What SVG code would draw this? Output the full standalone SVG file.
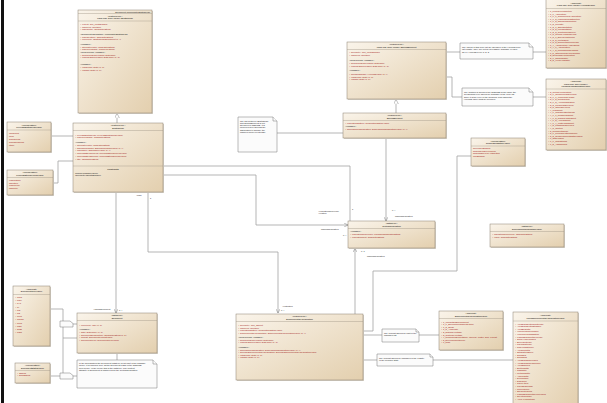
<svg xmlns="http://www.w3.org/2000/svg" width="607" height="403" viewBox="0 0 607 403">
<defs>
<linearGradient id="bg" x1="0" y1="0" x2="1" y2="1">
<stop offset="0" stop-color="#faf4ea"/>
<stop offset="1" stop-color="#e3cfae"/>
</linearGradient>
<marker id="gen" viewBox="0 0 10 10" refX="10" refY="5" markerWidth="5" markerHeight="5" markerUnits="userSpaceOnUse" orient="auto">
<path d="M0,0 L10,5 L0,10 z" fill="#fff" stroke="#888" stroke-width="1"/>
</marker>
<marker id="arr" viewBox="0 0 10 10" refX="10" refY="5" markerWidth="4" markerHeight="4" markerUnits="userSpaceOnUse" orient="auto">
<path d="M0,0 L10,5 L0,10" fill="none" stroke="#777" stroke-width="1.2"/>
</marker>
</defs>
<style>
text{font-family:"Liberation Sans",Arial,sans-serif;font-size:2.35px}
.b{fill:url(#bg);stroke:#8a7f70;stroke-width:0.5}
.sh{fill:#d6d0c6}
.s{stroke:#9c9284;stroke-width:0.4}
.n{fill:#fbfbfb;stroke:#777;stroke-width:0.5}
.c{fill:none;stroke:#a2a2a2;stroke-width:0.8}
.h{fill:#000;text-anchor:middle}
.a{fill:#a31818}
.k{fill:#111}
.t{fill:#222;font-size:2.2px}
.lb{fill:#222;font-size:2.2px}
</style>
<rect x="1" y="0" width="3" height="403" fill="#111"/>

<g id="connectors">
<path class="c" d="M117,123 V113.3" marker-end="url(#gen)"/>
<path class="c" d="M396,113 V99.3" marker-end="url(#gen)"/>
<path class="c" d="M51,136 H73"/>
<path class="c" d="M53,183 H58 V161 H73"/>
<path class="c" d="M116,192 V313" marker-end="url(#arr)"/>
<path class="c" d="M148,192 V252 H278 V313" marker-end="url(#arr)"/>
<path class="c" d="M163,166 H350 V221"/>
<path class="c" d="M163,175 H256 V225 H348" marker-end="url(#arr)"/>
<path class="c" d="M386,138 V221" marker-end="url(#arr)"/>
<path class="c" d="M355,314 V248.3" marker-end="url(#arr)"/>
<path class="c" d="M277,133 H343"/>
<path class="c" d="M446,52 H460 M533,52 H546"/>
<path class="c" d="M446,77 H452 V97 H462 M533,97 H546"/>
<path class="c" d="M363,331 H373 V271 H457 V156 H471"/>
<path class="c" d="M363,335 H382 M419,335 H439"/>
<path class="c" d="M363,360 H377 M433,360 H513"/>
<path class="c" d="M117,353 V360"/>
<path class="c" d="M50,309 H63 V321 M73,324 H77 M63,327 V373 M63,338 H77 M50,376 H60 M73,376 H77"/>
<text class="lb" x="93" y="309.5">+officialDocument</text>
<text class="lb" x="119" y="311">0..*</text>
<text class="lb" x="136" y="196">+plan</text>
<text class="lb" x="150" y="199">1</text>
<text class="lb" x="282" y="307">+restriction</text>
<text class="lb" x="281" y="311">0..*</text>
<text class="lb" x="318" y="211.5">+regulationReference</text>
<text class="lb" x="318" y="214">+relation</text>
<text class="lb" x="352" y="210">1</text>
<text class="lb" x="321" y="230">manualRegulation</text>
<text class="lb" x="343" y="235.5">0..*</text>
<text class="lb" x="392" y="211">0..*</text>
<text class="lb" x="395" y="217">manualRegulation</text>
<text class="lb" x="361" y="252">0..1</text>
<text class="lb" x="367" y="257">manualRegulation</text>
</g>

<g id="n1">
<rect class="sh" x="79" y="11" width="74" height="103"/>
<rect class="b" x="78" y="10" width="74" height="103"/>
<text class="k" x="150" y="12.6" text-anchor="end">Document::CompositeSpatialPlan</text>
<line class="s" x1="78" y1="13.5" x2="152" y2="13.5"/>
<text class="h" x="115" y="16.6">«featureType»</text>
<text class="h" x="115" y="19.2">Land Use Core Model::SpatialPlan</text>
<line class="s" x1="78" y1="21" x2="152" y2="21"/>
<text class="a"><tspan x="80" y="25">+ extent: GM_MultiSurface</tspan><tspan x="80" y="27.5">+ inspireId: Identifier</tspan><tspan x="80" y="30">+ officialTitle: CharacterString</tspan></text>
<text class="k" x="80" y="35">«documentInformation» compositeSpatialPlan</text>
<text class="a"><tspan x="80" y="37.5">+ planIdentifier: CharacterString</tspan><tspan x="80" y="40">+ reference: SpatialPlanDocument [0..*]</tspan></text>
<text class="k" x="80" y="45">«voidable»</text>
<text class="a"><tspan x="80" y="47.5">+ alternativeTitle: CharacterString</tspan><tspan x="80" y="50">+ planTypeName: PlanTypeName</tspan></text>
<text class="k" x="80" y="53">«lifeCycleInfo, voidable»</text>
<text class="a"><tspan x="80" y="55.5">+ beginLifespanVersion: DateTime</tspan><tspan x="80" y="58">+ endLifespanVersion: DateTime [0..1]</tspan></text>
<text class="k" x="80" y="65">«voidable»</text>
<text class="a"><tspan x="80" y="68">+ validFrom: Date [0..1]</tspan><tspan x="80" y="70.5">+ validTo: Date [0..1]</tspan></text>
</g>

<g id="n2">
<rect class="sh" x="74" y="124" width="90" height="69"/>
<rect class="b" x="73" y="123" width="90" height="69"/>
<text class="h" x="118" y="126">«featureType»</text>
<text class="h" x="118" y="128.6">SpatialPlan</text>
<line class="s" x1="73" y1="130.5" x2="163" y2="130.5"/>
<text class="a"><tspan x="75" y="135.5">+ levelOfSpatialPlan: LevelOfSpatialPlanValue</tspan><tspan x="75" y="138.3">+ planTypeName: CharacterString</tspan></text>
<text class="k" x="75" y="142.5">«voidable»</text>
<text class="a"><tspan x="75" y="146">+ alternativeTitle: CharacterString</tspan><tspan x="75" y="148.7">+ backgroundMap: BackgroundMapValue [0..*]</tspan><tspan x="75" y="151.4">+ ordinance: OrdinanceValue [0..*]</tspan><tspan x="75" y="154.1">+ processStepGeneral: ProcessStepGeneralValue</tspan><tspan x="75" y="156.8">+ processStepSpecific: ProcessStepSpecificValue</tspan><tspan x="75" y="159.5">+ title: CharacterString</tspan></text>
<line class="s" x1="73" y1="166" x2="163" y2="166"/>
<text class="h" x="113" y="169.5">constraints</text>
<text class="k"><tspan x="75" y="173.5">{planTypeNameValue}</tspan><tspan x="75" y="176">{geometryIsMultiSurface}</tspan></text>
</g>

<g id="n3">
<rect class="sh" x="8" y="123" width="44" height="30"/>
<rect class="b" x="7" y="122" width="44" height="30"/>
<text class="h" x="29" y="125.5">«enumeration»</text>
<text class="h" x="29" y="128">LevelOfSpatialPlanValue</text>
<line class="s" x1="7" y1="130" x2="51" y2="130"/>
<text class="a"><tspan x="9" y="133.5">infraLocal</tspan><tspan x="9" y="136.5">local</tspan><tspan x="9" y="139.5">supraLocal</tspan><tspan x="9" y="142.5">supraRegional</tspan><tspan x="9" y="145.5">other</tspan></text>
</g>

<g id="n4">
<rect class="sh" x="8" y="171" width="46" height="25"/>
<rect class="b" x="7" y="170" width="46" height="25"/>
<text class="h" x="30" y="173">«enumeration»</text>
<text class="h" x="30" y="175.5">ProcessStepGeneralValue</text>
<line class="s" x1="7" y1="177.5" x2="53" y2="177.5"/>
<text class="a"><tspan x="9" y="181">elaboration</tspan><tspan x="9" y="183.7">adoption</tspan><tspan x="9" y="186.4">legalForce</tspan><tspan x="9" y="189.1">obsolete</tspan></text>
</g>

<g id="n5">
<path class="n" d="M238,117 H273 L277,121 V152 H238 Z"/>
<path class="n" d="M273,117 V121 H277" fill="none"/>
<text class="t"><tspan x="240" y="121.5">The link between SpatialPlan</tspan><tspan x="240" y="123.8">and ZoningElement is not</tspan><tspan x="240" y="126.1">specified in INSPIRE. It is</tspan><tspan x="240" y="128.4">modelled here through the</tspan><tspan x="240" y="130.7">association to simplify the</tspan><tspan x="240" y="133">mapped model for storage</tspan></text>
</g>

<g id="n6">
<rect class="sh" x="348" y="43" width="99" height="57"/>
<rect class="b" x="347" y="42" width="99" height="57"/>
<text class="h" x="396.5" y="45">«featureType»</text>
<text class="h" x="396.5" y="47.5">Land Use Core Model::ZoningElement</text>
<line class="s" x1="347" y1="49.5" x2="446" y2="49.5"/>
<text class="a"><tspan x="349" y="53">+ geometry: GM_MultiSurface</tspan><tspan x="349" y="55.5">+ inspireId: Identifier</tspan></text>
<text class="k" x="349" y="61">«lifeCycleInfo, voidable»</text>
<text class="a"><tspan x="349" y="64">+ beginLifespanVersion: DateTime</tspan><tspan x="349" y="66.5">+ endLifespanVersion: DateTime [0..1]</tspan></text>
<text class="k" x="349" y="71">«voidable»</text>
<text class="a"><tspan x="349" y="75">+ hilucsLandUse: HILUCSValue [1..*]</tspan><tspan x="349" y="77.5">+ validFrom: Date [0..1]</tspan><tspan x="349" y="80">+ validTo: Date [0..1]</tspan></text>
</g>

<g id="n7">
<rect class="sh" x="344" y="114" width="103" height="25"/>
<rect class="b" x="343" y="113" width="103" height="25"/>
<text class="h" x="394.5" y="116">«featureType»</text>
<text class="h" x="394.5" y="118.5">ZoningElement</text>
<line class="s" x1="343" y1="120.5" x2="446" y2="120.5"/>
<text class="a" x="345" y="123.5">+ regulationNature: RegulationNatureValue</text>
<text class="k" x="345" y="126.5">«voidable»</text>
<text class="a" x="345" y="129.5">+ dimensioningIndication: DimensioningIndicationValue [0..*]</text>
</g>

<g id="n8">
<path class="n" d="M460,43 H529 L533,47 V59 H460 Z"/>
<path class="n" d="M529,43 V47 H533" fill="none"/>
<text class="t"><tspan x="462" y="47.5">The values of this code list are specified in the HILUCS code</tspan><tspan x="462" y="50">list registry. They are not all necessarily available or used</tspan><tspan x="462" y="52.5">as ex: HILUCS Level 1, 2, 3</tspan></text>
</g>

<g id="n9">
<rect class="sh" x="547" y="0" width="60" height="69"/>
<rect class="b" x="546" y="-1" width="60" height="69"/>
<text class="h" x="576" y="3.5">«codeList»</text>
<text class="h" x="576" y="6">Land Use Core Model::HILUCSValue</text>
<line class="s" x1="546" y1="8.5" x2="606" y2="8.5"/>
<text class="a"><tspan x="548" y="12">+ 1_PrimaryProduction</tspan><tspan x="548" y="14.6">+ 1_1_Agriculture</tspan><tspan x="548" y="17.2">+ 1_1_1_CommercialAgriculture</tspan><tspan x="548" y="19.8">+ 1_1_2_FarmingInfrastructure</tspan><tspan x="548" y="22.4">+ 1_1_3_OwnConsumption</tspan><tspan x="548" y="25">+ 1_2_Forestry</tspan><tspan x="548" y="27.6">+ 1_2_1_ShortRotation</tspan><tspan x="548" y="30.2">+ 1_2_2_LongRotation</tspan><tspan x="548" y="32.8">+ 1_2_3_ContinuousCover</tspan><tspan x="548" y="35.4">+ 1_3_MiningAndQuarrying</tspan><tspan x="548" y="38">+ 1_3_1_EnergyMaterials</tspan><tspan x="548" y="40.6">+ 1_3_2_MetalOres</tspan><tspan x="548" y="43.2">+ 1_3_3_NonMetallicMinerals</tspan><tspan x="548" y="45.8">+ 1_4_AquacultureAndFishing</tspan><tspan x="548" y="48.4">+ 1_4_1_Aquaculture</tspan><tspan x="548" y="51">+ 1_4_2_ProfessionalFishing</tspan><tspan x="548" y="53.6">+ 1_5_OtherPrimaryProduction</tspan><tspan x="548" y="56.2">+ 2_SecondaryProduction</tspan><tspan x="548" y="58.8">+ 2_1_RawIndustry</tspan><tspan x="548" y="61.4">+ 2_2_HeavyIndustry</tspan></text>
</g>

<g id="n10">
<path class="n" d="M462,88 H529 L533,92 V106 H462 Z"/>
<path class="n" d="M529,88 V92 H533" fill="none"/>
<text class="t"><tspan x="464" y="92.5">The position is wrong in the INSPIRE model since the</tspan><tspan x="464" y="95">hierarchical level should be available in the code list</tspan><tspan x="464" y="97.5">since it is the level of the hierarchy from which the</tspan><tspan x="464" y="100">HILUCS value must be provided.</tspan></text>
</g>

<g id="n11">
<rect class="sh" x="547" y="80" width="60" height="71"/>
<rect class="b" x="546" y="79" width="60" height="71"/>
<text class="h" x="576" y="82">«codeList»</text>
<text class="h" x="576" y="84.5">Land Use Core Model::</text>
<text class="h" x="576" y="87">LandUseClassificationValue</text>
<line class="s" x1="546" y1="89" x2="606" y2="89"/>
<text class="a"><tspan x="548" y="92.5">+ 3_TertiaryProduction</tspan><tspan x="548" y="95.1">+ 3_1_CommercialServices</tspan><tspan x="548" y="97.7">+ 3_1_1_WholesaleTrade</tspan><tspan x="548" y="100.3">+ 3_1_2_RetailTrade</tspan><tspan x="548" y="102.9">+ 3_1_3_Accommodation</tspan><tspan x="548" y="105.5">+ 3_2_FinancialServices</tspan><tspan x="548" y="108.1">+ 3_3_OtherServices</tspan><tspan x="548" y="110.7">+ 4_Transport</tspan><tspan x="548" y="113.3">+ 4_1_TransportNetworks</tspan><tspan x="548" y="115.9">+ 4_1_1_RoadTransport</tspan><tspan x="548" y="118.5">+ 4_1_2_RailwayTransport</tspan><tspan x="548" y="121.1">+ 4_1_3_AirTransport</tspan><tspan x="548" y="123.7">+ 4_1_4_WaterTransport</tspan><tspan x="548" y="126.3">+ 4_2_LogisticalServices</tspan><tspan x="548" y="128.9">+ 4_3_Utilities</tspan><tspan x="548" y="131.5">+ 5_ResidentialUse</tspan><tspan x="548" y="134.1">+ 5_1_PermanentResidence</tspan><tspan x="548" y="136.7">+ 5_2_ResidentialWithOtherUses</tspan><tspan x="548" y="139.3">+ 6_OtherUses</tspan><tspan x="548" y="141.9">+ 6_1_Transitional</tspan><tspan x="548" y="144.5">+ 6_2_Abandoned</tspan></text>
</g>

<g id="n12">
<rect class="sh" x="472" y="139" width="54" height="28"/>
<rect class="b" x="471" y="138" width="54" height="28"/>
<text class="h" x="498" y="141.5">«enumeration»</text>
<text class="h" x="498" y="144">RegulationNatureValue</text>
<line class="s" x1="471" y1="146" x2="525" y2="146"/>
<text class="a"><tspan x="473" y="149">generallyBinding</tspan><tspan x="473" y="151.7">bindingForDevelopers</tspan><tspan x="473" y="154.4">bindingOnlyForAuthorities</tspan><tspan x="473" y="157.1">nonBinding</tspan></text>
</g>

<g id="n13">
<rect class="sh" x="491" y="225" width="74" height="23"/>
<rect class="b" x="490" y="224" width="74" height="23"/>
<text class="h" x="527" y="227">«dataType»</text>
<text class="h" x="527" y="229.5">DimensioningIndicationValue</text>
<line class="s" x1="490" y1="231.5" x2="564" y2="231.5"/>
<text class="a"><tspan x="492" y="235">+ indicationReference: CharacterString</tspan><tspan x="492" y="237.7">+ value: CharacterString</tspan></text>
</g>

<g id="n14">
<rect class="sh" x="349" y="222" width="87" height="27"/>
<rect class="b" x="348" y="221" width="87" height="27"/>
<text class="h" x="391.5" y="224">«dataType»</text>
<text class="h" x="391.5" y="226.5">TextualRegulation</text>
<line class="s" x1="348" y1="228.5" x2="435" y2="228.5"/>
<text class="k" x="350" y="232">«voidable»</text>
<text class="a"><tspan x="350" y="235">+ regulationReference: LocalisedCharacterString</tspan><tspan x="350" y="237.5">+ regulationText: CharacterString</tspan></text>
</g>

<g id="n15">
<rect class="sh" x="237" y="315" width="127" height="66"/>
<rect class="b" x="236" y="314" width="127" height="66"/>
<text class="h" x="299.5" y="317">«featureType»</text>
<text class="h" x="299.5" y="319.5">SupplementaryRegulation</text>
<line class="s" x1="236" y1="321.5" x2="363" y2="321.5"/>
<text class="a"><tspan x="238" y="326">+ geometry: GM_Object</tspan><tspan x="238" y="328.5">+ inspireId: Identifier</tspan><tspan x="238" y="331">+ regulationNature: RegulationNatureValue</tspan><tspan x="238" y="333.5">+ supplementaryRegulation: SupplementaryRegulationValue [1..*]</tspan></text>
<text class="k" x="238" y="338">«lifeCycleInfo, voidable»</text>
<text class="a"><tspan x="238" y="340.5">+ beginLifespanVersion: DateTime</tspan><tspan x="238" y="343">+ endLifespanVersion: DateTime [0..1]</tspan></text>
<text class="k" x="238" y="348">«voidable»</text>
<text class="a"><tspan x="238" y="350.5">+ dimensioningIndication: DimensioningIndicationValue [0..*]</tspan><tspan x="238" y="353">+ specificSupplementaryRegulation: SpecificSupplementaryRegulationValue</tspan><tspan x="238" y="355.5">+ validFrom: Date [0..1]</tspan><tspan x="238" y="358">+ validTo: Date [0..1]</tspan></text>
</g>

<g id="n16">
<rect class="sh" x="78" y="314" width="80" height="40"/>
<rect class="b" x="77" y="313" width="80" height="40"/>
<text class="h" x="117" y="316">«dataType»</text>
<text class="h" x="117" y="318.5">Document</text>
<line class="s" x1="77" y1="320.5" x2="157" y2="320.5"/>
<text class="a" x="79" y="325.5">+ reference: URI [0..1]</text>
<text class="k" x="79" y="330">«voidable»</text>
<text class="a"><tspan x="79" y="333">+ date: DateTime [0..1]</tspan><tspan x="79" y="335.5">+ documentDescription: CharacterString [0..1]</tspan><tspan x="79" y="338">+ format: DocumentFormatValue</tspan><tspan x="79" y="340.5">+ documentType: DocumentTypeValue</tspan></text>
</g>

<g id="n17">
<path class="n" d="M77,360 H153 L157,364 V388 H77 Z"/>
<path class="n" d="M153,360 V364 H157" fill="none"/>
<text class="t"><tspan x="79" y="364">In the specification the Document datatype is not part of the package</tspan><tspan x="79" y="366.3">model. It is included here as the Document class of the INSPIRE</tspan><tspan x="79" y="368.6">PLU model. In the model this is the datatype. The content</tspan><tspan x="79" y="370.9">attribute of Document is mapped from the TextualRegulation.</tspan></text>
</g>

<g id="n18">
<rect class="sh" x="14" y="287" width="37" height="60"/>
<rect class="b" x="13" y="286" width="37" height="60"/>
<text class="h" x="31.5" y="289.5">«codeList»</text>
<text class="h" x="31.5" y="292">DocumentTypeValue</text>
<line class="s" x1="13" y1="294.5" x2="50" y2="294.5"/>
<text class="a"><tspan x="15" y="298">+ PRG</tspan><tspan x="15" y="301.2">+ PGT</tspan><tspan x="15" y="304.4">+ PAT</tspan><tspan x="15" y="307.6">+ PI</tspan><tspan x="15" y="310.8">+ PO</tspan><tspan x="15" y="314">+ PS</tspan><tspan x="15" y="317.2">+ PUC</tspan><tspan x="15" y="320.4">+ PRGC</tspan><tspan x="15" y="323.6">+ PUG</tspan><tspan x="15" y="326.8">+ PSC</tspan><tspan x="15" y="330">+ RUE</tspan><tspan x="15" y="333.2">+ POC</tspan></text>
</g>

<g id="n19">
<rect class="sh" x="16" y="364" width="35" height="20"/>
<rect class="b" x="15" y="363" width="35" height="20"/>
<text class="h" x="32.5" y="366">«enumeration»</text>
<text class="h" x="32.5" y="368.5">DocumentStatusValue</text>
<line class="s" x1="15" y1="370.5" x2="50" y2="370.5"/>
<text class="a"><tspan x="17" y="373.5">+ Official</tspan><tspan x="17" y="376.3">+ NonOfficial</tspan></text>
</g>

<g id="n20">
<path class="n" d="M60,321 H70 L73,323.5 V327 H60 Z"/>
<path class="n" d="M60,373 H70 L73,375.5 V379 H60 Z"/>
</g>

<g id="n21">
<path class="n" d="M382,329 H416 L419,332 V342 H382 Z"/>
<path class="n" d="M416,329 V332 H419" fill="none"/>
<text class="t"><tspan x="384" y="333.5">The codelist should be part of the</tspan><tspan x="384" y="336">managed list</tspan></text>
</g>

<g id="n22">
<path class="n" d="M377,354 H430 L433,357 V366 H377 Z"/>
<path class="n" d="M430,354 V357 H433" fill="none"/>
<text class="t"><tspan x="379" y="358.5">The codelist should be managed in the registry</tspan><tspan x="379" y="361">of the member state</tspan></text>
</g>

<g id="n23">
<rect class="sh" x="440" y="312" width="64" height="39"/>
<rect class="b" x="439" y="311" width="64" height="39"/>
<text class="h" x="471" y="314">«codeList»</text>
<text class="h" x="471" y="316.5">SupplementaryRegulationValue</text>
<line class="s" x1="439" y1="318.5" x2="503" y2="318.5"/>
<text class="a"><tspan x="441" y="322.5">+ 1_ImpactOnEnvironment</tspan><tspan x="441" y="325.1">+ 1_1_EnvironmentalProtection</tspan><tspan x="441" y="327.7">+ 1_2_Noise</tspan><tspan x="441" y="330.3">+ 1_3_AirQuality</tspan><tspan x="441" y="332.9">+ 2_NaturalHeritage</tspan><tspan x="441" y="335.5">+ 3_CulturalHeritage</tspan><tspan x="441" y="338.1">+ 4_ResourceExploitation, Mineral, Water, Soil, Forest</tspan><tspan x="441" y="340.7">+ 5_DevelopmentPolicy</tspan><tspan x="441" y="343.3">+ 6_Risk</tspan></text>
</g>

<g id="n24">
<rect class="sh" x="514" y="313" width="65" height="95"/>
<rect class="b" x="513" y="312" width="65" height="95"/>
<text class="h" x="545.5" y="315.5">«codeList»</text>
<text class="h" x="545.5" y="318.5">LocalSupplementaryRegulationValue</text>
<line class="s" x1="513" y1="321" x2="578" y2="321"/>
<text class="a"><tspan x="515" y="324.5">+ AreaDiRispettoCimiteriale</tspan><tspan x="515" y="327.1">+ AreaDiRispettoStradale</tspan><tspan x="515" y="329.7">+ AreaBoscata</tspan><tspan x="515" y="332.3">+ VincoloIdrogeologico</tspan><tspan x="515" y="334.9">+ VincoloPaesaggistico</tspan><tspan x="515" y="337.5">+ FasciaDiRispettoFluviale</tspan><tspan x="515" y="340.1">+ ZonaArcheologica</tspan><tspan x="515" y="342.7">+ BeneCulturale</tspan><tspan x="515" y="345.3">+ ParcoNaturale</tspan><tspan x="515" y="347.9">+ RiservaNaturale</tspan><tspan x="515" y="350.5">+ AreaProtetta</tspan><tspan x="515" y="353.1">+ SitoNatura2000</tspan><tspan x="515" y="355.7">+ ZonaSIC</tspan><tspan x="515" y="358.3">+ ZonaZPS</tspan><tspan x="515" y="360.9">+ AreaDiRischioFrana</tspan><tspan x="515" y="363.5">+ AreaDiRischioIdraulico</tspan><tspan x="515" y="366.1">+ AreaSismica</tspan><tspan x="515" y="368.7">+ Elettrodotto</tspan><tspan x="515" y="371.3">+ Gasdotto</tspan><tspan x="515" y="373.9">+ Metanodotto</tspan><tspan x="515" y="376.5">+ Acquedotto</tspan><tspan x="515" y="379.1">+ Depuratore</tspan><tspan x="515" y="381.7">+ Discarica</tspan><tspan x="515" y="384.3">+ CavaAttiva</tspan><tspan x="515" y="386.9">+ CavaDismessa</tspan><tspan x="515" y="389.5">+ PozzoIdrico</tspan><tspan x="515" y="392.1">+ SorgenteIdrica</tspan><tspan x="515" y="394.7">+ FasciaDiRispettoFerroviaria</tspan><tspan x="515" y="397.3">+ ServituMilitare</tspan><tspan x="515" y="399.9">+ AreaAeroportuale</tspan></text>
</g>
</svg>
